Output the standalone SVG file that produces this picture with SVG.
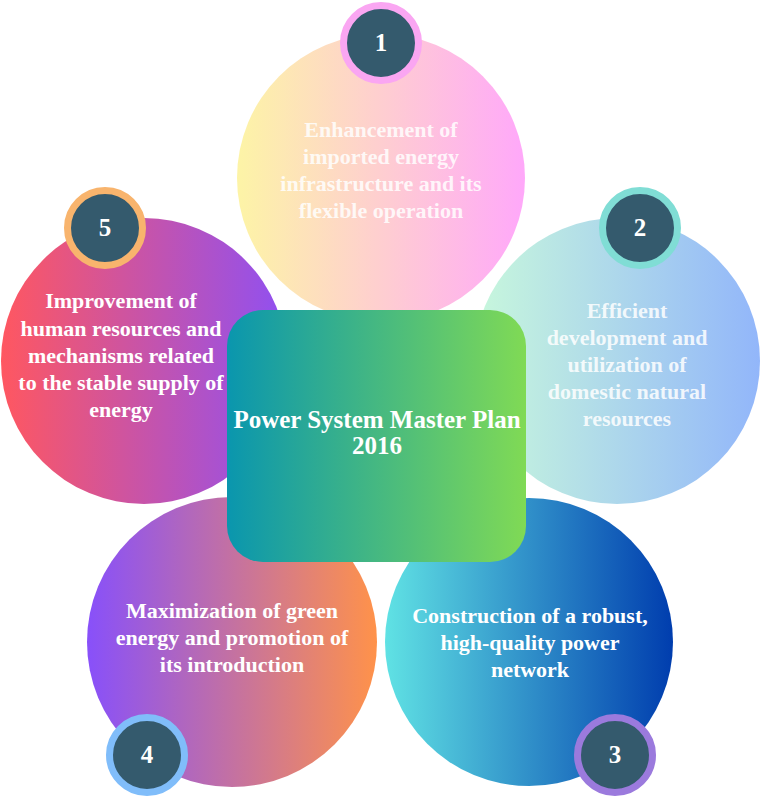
<svg xmlns="http://www.w3.org/2000/svg" width="762" height="803" viewBox="0 0 762 803">
<defs>
<linearGradient id="g1" x1="0" y1="0" x2="1" y2="0"><stop offset="0" stop-color="#FDF4A6"/><stop offset="1" stop-color="#FFA8FA"/></linearGradient>
<linearGradient id="g2" x1="0" y1="0" x2="1" y2="0"><stop offset="0" stop-color="#C8F8DC"/><stop offset="1" stop-color="#92B6FA"/></linearGradient>
<linearGradient id="g3" x1="0" y1="0" x2="1" y2="0"><stop offset="0" stop-color="#60E2E4"/><stop offset="1" stop-color="#003DAE"/></linearGradient>
<linearGradient id="g4" x1="0" y1="0" x2="1" y2="0"><stop offset="0" stop-color="#8850FA"/><stop offset="1" stop-color="#FF924A"/></linearGradient>
<linearGradient id="g5" x1="0" y1="0" x2="1" y2="0"><stop offset="0" stop-color="#FF5760"/><stop offset="1" stop-color="#8F50F2"/></linearGradient>
<linearGradient id="gc" x1="0" y1="0" x2="1" y2="0"><stop offset="0" stop-color="#0A96AE"/><stop offset="1" stop-color="#80DA55"/></linearGradient>
</defs>
<style>
text{font-family:"Liberation Serif","Times New Roman",serif;font-weight:bold;fill:#fff;text-anchor:middle}
.t{font-size:22px}
.t1{fill-opacity:0.85}
.num{font-size:25px}
.badge{fill:#345A6D;stroke-width:7}
.title{font-size:25px}
</style>
<g id="node1">
<circle cx="381" cy="178" r="144" fill="url(#g1)"/>
<text class="t t1" x="381" y="137">Enhancement of</text>
<text class="t t1" x="381" y="164">imported energy</text>
<text class="t t1" x="381" y="191">infrastructure and its</text>
<text class="t t1" x="381" y="218">flexible operation</text>
</g>
<g id="node2">
<circle cx="617" cy="361" r="143" fill="url(#g2)"/>
<text class="t t1" x="627" y="318">Efficient</text>
<text class="t t1" x="627" y="345">development and</text>
<text class="t t1" x="627" y="372">utilization of</text>
<text class="t t1" x="627" y="399">domestic natural</text>
<text class="t t1" x="627" y="426">resources</text>
</g>
<g id="node5">
<circle cx="144" cy="361" r="143" fill="url(#g5)"/>
<text class="t" x="121" y="308">Improvement of</text>
<text class="t" x="121" y="336">human resources and</text>
<text class="t" x="121" y="363">mechanisms related</text>
<text class="t" x="121" y="390">to the stable supply of</text>
<text class="t" x="121" y="417">energy</text>
</g>
<g id="node4">
<circle cx="232" cy="642" r="145" fill="url(#g4)"/>
<text class="t" x="232" y="618">Maximization of green</text>
<text class="t" x="232" y="645">energy and promotion of</text>
<text class="t" x="232" y="672">its introduction</text>
</g>
<g id="node3">
<circle cx="529" cy="642" r="144" fill="url(#g3)"/>
<text class="t" x="530" y="623">Construction of a robust,</text>
<text class="t" x="530" y="650">high-quality power</text>
<text class="t" x="530" y="677">network</text>
</g>
<g id="center">
<rect x="227" y="310" width="299" height="252" rx="36" fill="url(#gc)"/>
<text class="title" x="377" y="428">Power System Master Plan</text>
<text class="title" x="377" y="454">2016</text>
</g>
<g id="badge1"><circle class="badge" cx="381" cy="43" r="37.5" stroke="#FAA6F2"/><text class="num" x="381" y="51">1</text></g>
<g id="badge2"><circle class="badge" cx="640" cy="228" r="37.5" stroke="#80DDD5"/><text class="num" x="640" y="236">2</text></g>
<g id="badge3"><circle class="badge" cx="615" cy="755" r="37.5" stroke="#9B7ADD"/><text class="num" x="615" y="763">3</text></g>
<g id="badge4"><circle class="badge" cx="147" cy="755" r="37.5" stroke="#80BDFA"/><text class="num" x="147" y="763">4</text></g>
<g id="badge5"><circle class="badge" cx="105" cy="228" r="37.5" stroke="#F8B46D"/><text class="num" x="105" y="236">5</text></g>
<g id="connectors"/>
</svg>
